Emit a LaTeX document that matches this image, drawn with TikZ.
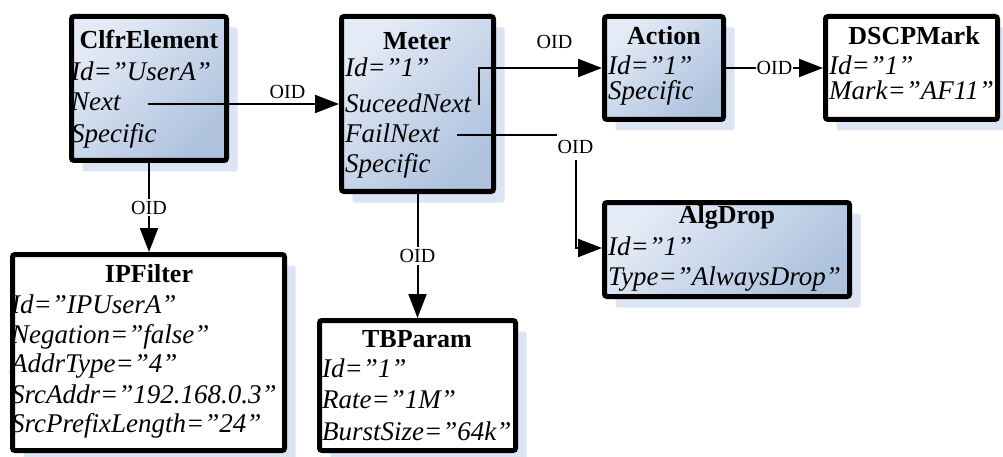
\documentclass[tikz,border=0pt]{standalone}
\usepackage{fontspec}
\setmainfont{Liberation Serif}
\usetikzlibrary{arrows.meta,shadows}
\definecolor{gl}{RGB}{228,235,246}
\definecolor{gd}{RGB}{174,194,222}
\definecolor{shc}{RGB}{218,228,242}
\tikzset{
  box/.style={draw=black, line width=5pt, rounded corners=2.5pt, inner sep=0pt,
    drop shadow={shadow xshift=11pt, shadow yshift=-11pt, fill=shc, opacity=1}},
  bluebox/.style={box, top color=gl, bottom color=gd, shading angle=45},
  whitebox/.style={box, fill=white},
  ttl/.style={font=\fontsize{26}{30}\selectfont\bfseries, inner sep=0pt, anchor=base},
  attr/.style={font=\fontsize{27}{31}\selectfont\itshape, inner sep=0pt, anchor=base west},
  lbl/.style={font=\fontsize{20}{24}\selectfont, inner sep=0pt},
  oid/.style={lbl, fill=white, inner xsep=1pt, inner ysep=2pt},
  conn/.style={line width=2pt, -{Triangle[length=24pt,width=18pt]}},
}
\begin{document}
\begin{tikzpicture}[x=1pt,y=-1pt]
\useasboundingbox (0,0) rectangle (1003,457);
% boxes
\node[bluebox, minimum width=155pt, minimum height=144pt] (clfr) at (149,88.5) {};
\node[bluebox, minimum width=152pt, minimum height=175pt] (meter) at (417.5,104) {};
\node[bluebox, minimum width=119pt, minimum height=103pt] (action) at (664,68) {};
\node[whitebox, minimum width=172pt, minimum height=103pt] (dscp) at (911.5,68) {};
\node[bluebox, minimum width=245pt, minimum height=94pt] (alg) at (727,249.5) {};
\node[whitebox, minimum width=272pt, minimum height=196pt] (ipf) at (148.5,352.5) {};
\node[whitebox, minimum width=196pt, minimum height=130pt] (tb) at (417.5,385.5) {};
% texts
\node[ttl] (c0) at (149,49) {ClfrElement};
\node[attr] (c1) at (71,81) {Id=”UserA”};
\node[attr] (c2) at (71,111) {Next};
\node[attr] (c3) at (71,143) {Specific};
\node[ttl] (m0) at (417,50) {Meter};
\node[attr] (m1) at (345,77) {Id=”1"};
\node[attr] (m2) at (345,113) {SuceedNext};
\node[attr] (m3) at (345,143) {FailNext};
\node[attr] (m4) at (345,173) {Specific};
\node[ttl] (a0) at (664,45) {Action};
\node[attr] (a1) at (608,75) {Id=”1”};
\node[attr] (a2) at (608,100) {Specific};
\node[ttl] (d0) at (914,45) {DSCPMark};
\node[attr] (d1) at (829,75) {Id=”1”};
\node[attr] (d2) at (829,100) {Mark=”AF11”};
\node[ttl] (g0) at (727,223) {AlgDrop};
\node[attr] (g1) at (608,255) {Id=”1”};
\node[attr] (g2) at (608,285) {Type=”AlwaysDrop”};
\node[ttl] (i0) at (149,282) {IPFilter};
\node[attr] (i1) at (11,313) {Id=”IPUserA”};
\node[attr] (i2) at (11,343) {Negation=”false”};
\node[attr] (i3) at (11,372) {AddrType=”4”};
\node[attr] (i4) at (11,403) {SrcAddr=”192.168.0.3”};
\node[attr] (i5) at (11,432) {SrcPrefixLength=”24”};
\node[ttl] (t0) at (417,347) {TBParam};
\node[attr] (t1) at (322,377) {Id=”1”};
\node[attr] (t2) at (322,408) {Rate=”1M”};
\node[attr] (t3) at (322,440) {BurstSize=”64k”};
% connector start points
\coordinate (cnext) at (148,104);
\coordinate (msucc) at (479,105);
\coordinate (mfail) at (457,135);
\coordinate (fx) at (576,0);
\coordinate (ay) at (0,68);
\coordinate (gy) at (0,248);
% connectors
\draw[conn] (cnext) -- (cnext -| meter.west);
\node[lbl] (l1) at (287.5,91.5) {OID};
\draw[conn] (msucc) -- (msucc |- ay) -- (ay -| action.west);
\node[lbl] (l2) at (554.5,42) {OID};
\draw[conn] (mfail) -- (mfail -| fx) -- (fx |- gy) -- (gy -| alg.west);
\node[oid, minimum height=27pt] (l3) at (575.5,146.5) {OID};
\draw[conn] (action.east) -- (dscp.west) node[oid, midway] (l4) {OID};
\draw[conn] (clfr.south) -- (clfr.south |- ipf.north) node[oid, midway] (l5) {OID};
\draw[conn] (meter.south) -- (meter.south |- tb.north) node[oid, midway] (l6) {OID};
\end{tikzpicture}
\end{document}
